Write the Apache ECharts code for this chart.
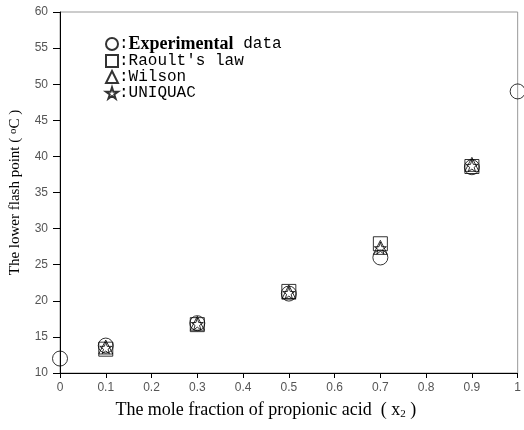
<!DOCTYPE html>
<html><head><meta charset="utf-8">
<script src="https://cdn.jsdelivr.net/npm/echarts@6/dist/echarts.min.js"></script>
<style>html,body{margin:0;padding:0;background:#fff}#c{width:524px;height:430px}</style>
</head><body><div id="c"></div>
<script>
const xTicks = [0,0.1,0.2,0.3,0.4,0.5,0.6,0.7,0.8,0.9,1];
const experimental = [[0,12],[0.1,13.8],[0.3,16.9],[0.5,21.0],[0.7,26.0],[0.9,38.5],[1,49]];
const raoult = [[0.1,13.3],[0.3,16.7],[0.5,21.3],[0.7,27.9],[0.9,38.6]];
const wilson = [[0.1,13.6],[0.3,16.9],[0.5,21.2],[0.7,27.4],[0.9,38.9]];
const uniquac = [[0.1,13.5],[0.3,16.8],[0.5,21.1],[0.7,27.3],[0.9,38.7]];
const names = ['Experimental','Raoult','Wilson','UNIQUAC'];
const star = 'path://M50,0 L61,35 L98,35 L68,57 L79,91 L50,70 L21,91 L32,57 L2,35 L39,35 Z';
const hollow = {color:'transparent', borderColor:'#000', borderWidth:1};
const chart = echarts.init(document.getElementById('c'));
function ser(name, data, symbol, size){
  return {name, type:'scatter', data, symbol, symbolSize:size, itemStyle:hollow, z:3};
}
chart.setOption({
  animation:false,
  grid:{left:59, right:3, top:12, bottom:57, show:true, borderColor:'#999', borderWidth:1},
  legend:{
    orient:'vertical', left:100, top:30, itemGap:0, itemWidth:12, itemHeight:12,
    data:[
      {name:'Experimental', icon:'circle'},
      {name:'Raoult', icon:'rect'},
      {name:'Wilson', icon:'triangle'},
      {name:'UNIQUAC', icon:star}
    ],
    formatter: function(n){
      if(n==='Experimental') return '{m|:}{b|Experimental}{m| data}';
      if(n==='Raoult') return "{m|:Raoult's law}";
      if(n==='Wilson') return '{m|:Wilson}';
      return '{m|:UNIQUAC}';
    },
    textStyle:{
      padding:[0,0,0,-4],
      rich:{
        m:{fontFamily:'Liberation Mono', fontSize:16, lineHeight:16, color:'#000'},
        b:{fontFamily:'Liberation Serif', fontWeight:'bold', fontSize:18, lineHeight:16, color:'#000'}
      }
    }
  },
  xAxis:{
    type:'value', min:0, max:1, interval:0.1,
    name:'{t|The mole fraction of propionic acid  ( x}{s|2}{t| )}',
    nameLocation:'middle', nameGap:27,
    nameTextStyle:{padding:[0,46,0,0], rich:{
      t:{fontFamily:'Liberation Serif', fontSize:18, color:'#000'},
      s:{fontFamily:'Liberation Serif', fontSize:11, color:'#000', verticalAlign:'bottom', padding:[9,0,0,0]}
    }},
    axisLine:{onZero:false, lineStyle:{color:'#000'}},
    axisTick:{length:5, lineStyle:{color:'#000'}},
    axisLabel:{color:'#555', fontFamily:'Liberation Sans', fontSize:12, margin:9,
      formatter:v=>String(Math.round(v*10)/10)},
    splitLine:{show:false}
  },
  yAxis:{
    type:'value', min:10, max:60, interval:5,
    name:'{t|The lower flash point ( }{s|o}{t|C )}',
    nameLocation:'middle', nameGap:37,
    nameTextStyle:{rich:{
      t:{fontFamily:'Liberation Serif', fontSize:15, color:'#000'},
      s:{fontFamily:'Liberation Serif', fontSize:11, color:'#000', verticalAlign:'top'}
    }},
    axisLine:{onZero:false, lineStyle:{color:'#000'}},
    axisTick:{length:7, lineStyle:{color:'#000'}},
    axisLabel:{color:'#555', fontFamily:'Liberation Sans', fontSize:12, margin:12},
    splitLine:{show:false}
  },
  series:[
    ser('Experimental', experimental, 'circle', 15),
    ser('Raoult', raoult, 'rect', 14),
    ser('Wilson', wilson, 'triangle', 14),
    ser('UNIQUAC', uniquac, star, 12)
  ]
});
</script></body></html>
